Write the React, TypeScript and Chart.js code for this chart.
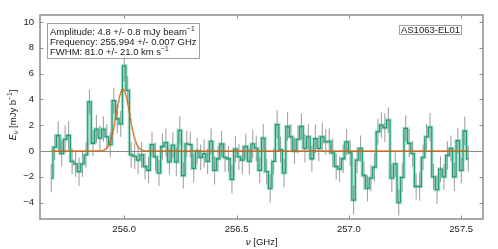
import React, { useEffect, useRef } from "react";
import { Chart, registerables } from "chart.js";

Chart.register(...registerables);

// Channel grid (GHz)
const FREQ_START = 255.675;
const CHANNEL_WIDTH = 0.01547;

// Flux density per channel (mJy/beam)
const FLUX = [
  -2.1, 0.3, 1.2, -0.2, 0.9, 1.2, -0.8, -1.0, -1.6, -1.0,
  -0.3, 3.8, 0.6, 1.7, 1.0, 1.7, 1.1, 0.5, 3.9, 2.5,
  2.1, 6.6, 4.7, -0.3, -0.4, -0.7, -0.3, -1.2, -1.5, 0.5,
  -0.45, -1.7, 0.35, 0.65, -0.85, 0.45, -0.85, 1.6, -1.9, 0.55,
  0.5, -1.35, 0.0, -0.5, -0.2, -0.8, 0.75, -1.5, -0.6, 0.55,
  -0.5, -0.6, -2.2, 0.15, -0.45, -0.7, 0.35, -0.8, 0.55, 0.2,
  -1.5, 1.0, -1.6, -2.9, -0.8, 2.05, 0.1, -1.7, 1.9, 1.1,
  0.0, 0.9, 1.9, 0.2, 1.1, -0.6, 0.95, 0.2, 1.1, 0.7,
  0.75, -0.15, -1.2, -1.4, -0.6, 0.7, -0.15, -3.8, -0.7, 0.2,
  -1.9, -2.9, -2.1, -1.25, 1.5, 2.0, 1.8, 2.4, -2.1, -1.0,
  -4.0, -2.05, 1.75, 0.6, -0.2, -2.75, -2.75, -0.5, 1.1, 1.85,
  -2.0, -3.0, -1.4, -2.0, -0.35, 0.2, -2.0, 0.8, -1.5, 1.55,
  -0.6,
];

// 1-sigma uncertainty per channel (mJy/beam)
const ERR = [
  1.1, 1.0, 1.1, 1.0, 1.1, 1.1, 1.0, 1.0, 1.1, 1.0,
  1.0, 0.95, 1.0, 1.1, 1.0, 1.0, 1.0, 1.0, 1.0, 1.1,
  1.0, 1.2, 1.1, 1.0, 1.0, 1.1, 1.0, 1.0, 1.0, 1.0,
  1.1, 1.0, 1.0, 1.1, 1.0, 1.0, 1.1, 1.1, 1.0, 1.0,
  1.0, 1.1, 1.0, 1.0, 1.1, 1.0, 1.0, 1.1, 1.0, 1.0,
  1.1, 1.0, 1.1, 1.0, 1.0, 1.1, 1.0, 1.0, 1.1, 1.0,
  1.0, 1.1, 1.0, 1.1, 1.0, 1.1, 1.0, 1.1, 1.1, 1.0,
  1.0, 1.1, 1.0, 1.1, 1.0, 1.0, 1.1, 1.0, 1.1, 1.0,
  1.0, 1.1, 1.0, 1.0, 1.1, 1.0, 1.0, 1.1, 1.0, 1.0,
  1.1, 1.0, 1.0, 1.1, 1.0, 1.0, 1.1, 1.0, 1.1, 1.0,
  1.0, 1.1, 1.0, 1.1, 1.0, 1.0, 1.1, 1.0, 1.0, 1.1,
  1.0, 1.1, 1.0, 1.0, 1.1, 1.0, 1.1, 1.0, 1.0, 1.1,
  1.0,
];

// Gaussian fit parameters
const FIT_AMP = 4.8; // mJy/beam
const FIT_FREQ = 255.994; // GHz
const FIT_FWHM_KMS = 81.0; // km/s

const X_TICKS = [256.0, 256.5, 257.0, 257.5];
const Y_TICKS = [-4, -2, 0, 2, 4, 6, 8, 10];
const X_MIN = 255.625;
const X_MAX = 257.597;
const Y_MIN = -5.27;
const Y_MAX = 10.54;
const SOURCE_LABEL = "AS1063-EL01";

type Seg = { t: string; it?: boolean; sup?: boolean; sub?: boolean };

const FIT_LINES: Seg[][] = [
  [{ t: "Amplitude: 4.8 +/- 0.8 mJy beam" }, { t: "\u22121", sup: true }],
  [{ t: "Frequency: 255.994 +/- 0.007 GHz" }],
  [{ t: "FWHM: 81.0 +/- 21.0 km s" }, { t: "\u22121", sup: true }],
];
const Y_TITLE: Seg[] = [
  { t: "E", it: true },
  { t: "\u03bd", it: true, sub: true },
  { t: " [mJy b" },
  { t: "\u22121", sup: true },
  { t: "]" },
];
const X_TITLE: Seg[] = [{ t: "\u03bd", it: true }, { t: " [GHz]" }];

const SANS = "'Liberation Sans', Arial, sans-serif";
const MATH = "'DejaVu Sans', sans-serif";

function segFont(s: Seg, size: number) {
  const sz = s.sup || s.sub ? size * 0.7 : size;
  return `${s.it ? "italic " : ""}${sz}px ${s.it ? MATH : SANS}`;
}
function richWidth(ctx: CanvasRenderingContext2D, segs: Seg[], size: number) {
  let w = 0;
  for (const s of segs) {
    ctx.font = segFont(s, size);
    w += ctx.measureText(s.t).width;
  }
  return w;
}
function drawRich(ctx: CanvasRenderingContext2D, x: number, y: number, segs: Seg[], size: number) {
  let cx = x;
  ctx.textBaseline = "alphabetic";
  ctx.textAlign = "left";
  for (const s of segs) {
    ctx.font = segFont(s, size);
    const dy = s.sup ? -size * 0.42 : s.sub ? size * 0.22 : 0;
    ctx.fillText(s.t, cx, y + dy);
    cx += ctx.measureText(s.t).width;
  }
}

export default function App() {
  const ref = useRef<HTMLCanvasElement>(null);
  useEffect(() => {
    if (!ref.current) return;
    const freqs = FLUX.map((_, i) => FREQ_START + i * CHANNEL_WIDTH);
    const stepData = FLUX.map((v, i) => ({ x: freqs[i], y: v }));
    const sigma = (FIT_FREQ * FIT_FWHM_KMS) / 299792.458 / (2 * Math.sqrt(2 * Math.log(2)));
    const x0 = freqs[0];
    const x1 = freqs[freqs.length - 1];
    const model: { x: number; y: number }[] = [];
    const n = 800;
    for (let i = 0; i <= n; i++) {
      const x = x0 + ((x1 - x0) * i) / n;
      model.push({ x, y: FIT_AMP * Math.exp(-0.5 * ((x - FIT_FREQ) / sigma) ** 2) });
    }

    const overlay = {
      id: "overlay",
      beforeDatasetsDraw(chart: any) {
        const { ctx, chartArea: a, scales } = chart;
        const xs = scales.x;
        const ys = scales.y;
        ctx.save();
        ctx.beginPath();
        ctx.rect(a.left, a.top, a.right - a.left, a.bottom - a.top);
        ctx.clip();
        const y0 = Math.round(ys.getPixelForValue(0)) + 0.5;
        ctx.strokeStyle = "#8a8a8a";
        ctx.lineWidth = 1;
        ctx.beginPath();
        ctx.moveTo(a.left, y0);
        ctx.lineTo(a.right, y0);
        ctx.stroke();
        ctx.strokeStyle = "rgba(140,140,140,0.8)";
        ctx.lineWidth = 1.1;
        FLUX.forEach((v, i) => {
          const px = xs.getPixelForValue(freqs[i]);
          ctx.beginPath();
          ctx.moveTo(px, ys.getPixelForValue(v + ERR[i]));
          ctx.lineTo(px, ys.getPixelForValue(v - ERR[i]));
          ctx.stroke();
        });
        ctx.restore();
      },
      afterDraw(chart: any) {
        const { ctx, chartArea: a, scales } = chart;
        const xs = scales.x;
        const ys = scales.y;
        ctx.save();
        // frame
        ctx.strokeStyle = "#8c8c8c";
        ctx.lineWidth = 1.5;
        ctx.strokeRect(a.left, a.top, a.right - a.left, a.bottom - a.top);
        // inward ticks
        ctx.lineWidth = 1;
        const tl = 3.5;
        ctx.beginPath();
        for (const t of X_TICKS) {
          const px = Math.round(xs.getPixelForValue(t)) + 0.5;
          ctx.moveTo(px, a.bottom);
          ctx.lineTo(px, a.bottom - tl);
          ctx.moveTo(px, a.top);
          ctx.lineTo(px, a.top + tl);
        }
        for (const t of Y_TICKS) {
          const py = Math.round(ys.getPixelForValue(t)) + 0.5;
          ctx.moveTo(a.left, py);
          ctx.lineTo(a.left + tl, py);
          ctx.moveTo(a.right, py);
          ctx.lineTo(a.right - tl, py);
        }
        ctx.stroke();

        ctx.fillStyle = "#1a1a1a";
        // fit box
        const fs = 9.5;
        ctx.fillStyle = "rgba(255,255,255,0.85)";
        ctx.fillRect(47.5, 23.5, 152, 35);
        ctx.strokeStyle = "#a0a0a0";
        ctx.lineWidth = 1;
        ctx.strokeRect(47.5, 23.5, 152, 35);
        ctx.fillStyle = "#1a1a1a";
        const bl = [34.6, 44.9, 55.2];
        FIT_LINES.forEach((segs, i) => drawRich(ctx, 50, bl[i], segs, fs));

        // source label
        ctx.font = `${fs}px ${SANS}`;
        const lw = ctx.measureText(SOURCE_LABEL).width;
        const cx = 430.5;
        ctx.fillStyle = "#fff";
        ctx.fillRect(cx - lw / 2 - 1.5, 25, lw + 3, 9.5);
        ctx.strokeStyle = "#a0a0a0";
        ctx.strokeRect(Math.round(cx - lw / 2 - 1.5) + 0.5, 25.5, Math.round(lw + 3), 9);
        ctx.fillStyle = "#1a1a1a";
        ctx.textAlign = "center";
        ctx.textBaseline = "alphabetic";
        ctx.fillText(SOURCE_LABEL, cx, 33.4);

        // axis titles
        const tw = richWidth(ctx, X_TITLE, 9.5);
        drawRich(ctx, (a.left + a.right) / 2 - tw / 2, 244.5, X_TITLE, 9.5);
        ctx.save();
        ctx.translate(16, 115);
        ctx.rotate(-Math.PI / 2);
        const yw = richWidth(ctx, Y_TITLE, 9.5);
        drawRich(ctx, -yw / 2, 0, Y_TITLE, 9.5);
        ctx.restore();
        ctx.restore();
      },
    };

    const chart = new Chart(ref.current, {
      type: "line",
      data: {
        datasets: [
          {
            data: model,
            borderColor: "rgba(217,95,2,0.8)",
            borderWidth: 1.4,
            pointRadius: 0,
            order: 0,
          },
          {
            data: stepData,
            stepped: "middle",
            borderColor: "#1b9e77",
            borderWidth: 1.3,
            pointRadius: 0,
            order: 1,
          },
          {
            data: stepData,
            stepped: "middle",
            borderColor: "rgba(27,158,119,0.28)",
            borderWidth: 3.5,
            pointRadius: 0,
            order: 2,
          },
        ],
      } as any,
      options: {
        animation: false,
        responsive: false,
        maintainAspectRatio: false,
        devicePixelRatio: 1,
        layout: { padding: { top: 15, right: 15, left: 0, bottom: 0 } },
        plugins: { legend: { display: false }, tooltip: { enabled: false } },
        scales: {
          x: {
            type: "linear",
            min: X_MIN,
            max: X_MAX,
            grid: { display: false, drawTicks: false },
            border: { display: false },
            afterBuildTicks: (s: any) => {
              s.ticks = X_TICKS.map((v) => ({ value: v }));
            },
            afterFit: (s: any) => {
              s.height = 30;
            },
            ticks: {
              padding: 5,
              color: "#1a1a1a",
              font: { family: SANS, size: 9.5 },
              callback: (v: any) => Number(v).toFixed(1),
              maxRotation: 0,
            },
          },
          y: {
            type: "linear",
            min: Y_MIN,
            max: Y_MAX,
            grid: { display: false, drawTicks: false },
            border: { display: false },
            afterBuildTicks: (s: any) => {
              s.ticks = Y_TICKS.map((v) => ({ value: v }));
            },
            afterFit: (s: any) => {
              s.width = 40;
            },
            ticks: {
              padding: 6,
              color: "#1a1a1a",
              font: { family: SANS, size: 9.5 },
              callback: (v: any) => (Number(v) < 0 ? "\u2212" + Math.abs(Number(v)) : String(v)),
            },
          },
        },
      } as any,
      plugins: [overlay],
    });
    return () => chart.destroy();
  }, []);

  return (
    <div style={{ position: "fixed", left: 0, top: 0, width: 498, height: 249, background: "#fff" }}>
      <canvas ref={ref} width={498} height={249} style={{ display: "block", width: 498, height: 249 }} />
    </div>
  );
}
